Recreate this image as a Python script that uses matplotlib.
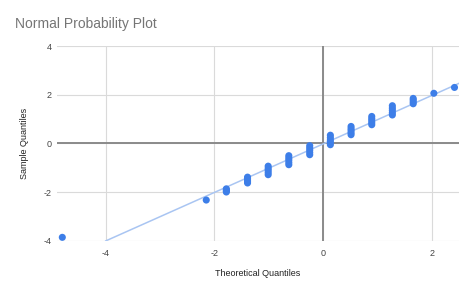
import matplotlib.pyplot as plt

# Normal probability plot (theoretical vs sample quantiles)

# clusters of points: one theoretical quantile, several sample values
theo_x = [-4.80, -2.15, -1.78, -1.39, -1.01, -0.63, -0.245, 0.135, 0.516, 0.897, 1.276, 1.66, 2.04, 2.42]
sample_y = [
    [-3.85],
    [-2.32],
    [-1.86, -1.90, -1.95, -1.99],
    [-1.38, -1.44, -1.50, -1.56, -1.62],
    [-0.93, -1.02, -1.10, -1.19, -1.28],
    [-0.50, -0.59, -0.68, -0.78, -0.87],
    [-0.09, -0.18, -0.27, -0.37, -0.46],
    [0.34, 0.24, 0.14, 0.05, -0.05],
    [0.70, 0.61, 0.53, 0.44, 0.36],
    [1.11, 1.02, 0.94, 0.85, 0.77],
    [1.55, 1.45, 1.36, 1.26, 1.17],
    [1.85, 1.78, 1.70, 1.63],
    [2.06],
    [2.30],
]
trend_slope = 0.994
trend_icpt = -0.02

xticks = [-4, -2, 0, 2]
yticks = [-4, -2, 0, 2, 4]

plt.rcParams['font.family'] = ['Liberation Sans', 'DejaVu Sans']
plt.rcParams['axes.unicode_minus'] = False

fig = plt.figure(figsize=(4.74, 2.93), dpi=100)
ax = fig.add_axes([0.120, 0.1775, 0.848, 0.6655])

xs, ys = [], []
for x, yy in zip(theo_x, sample_y):
    for y in yy:
        xs.append(x)
        ys.append(y)

xmin, xmax = -4.90, 2.50
ax.set_xlim(xmin, xmax)
ax.set_ylim(-4, 4)

tx = [-4, xmax]
ax.plot(tx, [trend_slope * v + trend_icpt for v in tx], color='#a9c5f2', lw=1.1, zorder=2)
ax.scatter(xs, ys, s=26, color='#3d7ee8', edgecolors='none', zorder=3, clip_on=False)

ax.axhline(0, color='#8a8a8a', lw=1.4, zorder=1)
ax.axvline(0, color='#8a8a8a', lw=1.4, zorder=1)

ax.set_xticks(xticks)
ax.set_yticks(yticks)
ax.grid(True, color='#dadada', lw=0.8, zorder=0)
ax.set_axisbelow(True)
for s in ax.spines.values():
    s.set_visible(False)
ax.tick_params(length=0, labelsize=6.5, colors='#444444')
ax.tick_params(axis='x', pad=6)
ax.tick_params(axis='y', pad=4)

ax.set_xlabel('Theoretical Quantiles', fontsize=6.5, color='#222222', labelpad=8)
ax.set_ylabel('Sample Quantiles', fontsize=6.5, color='#222222', labelpad=10)

fig.text(0.032, 0.905, 'Normal Probability Plot', fontsize=10, color='#757575')

plt.savefig('out.png', dpi=100)
